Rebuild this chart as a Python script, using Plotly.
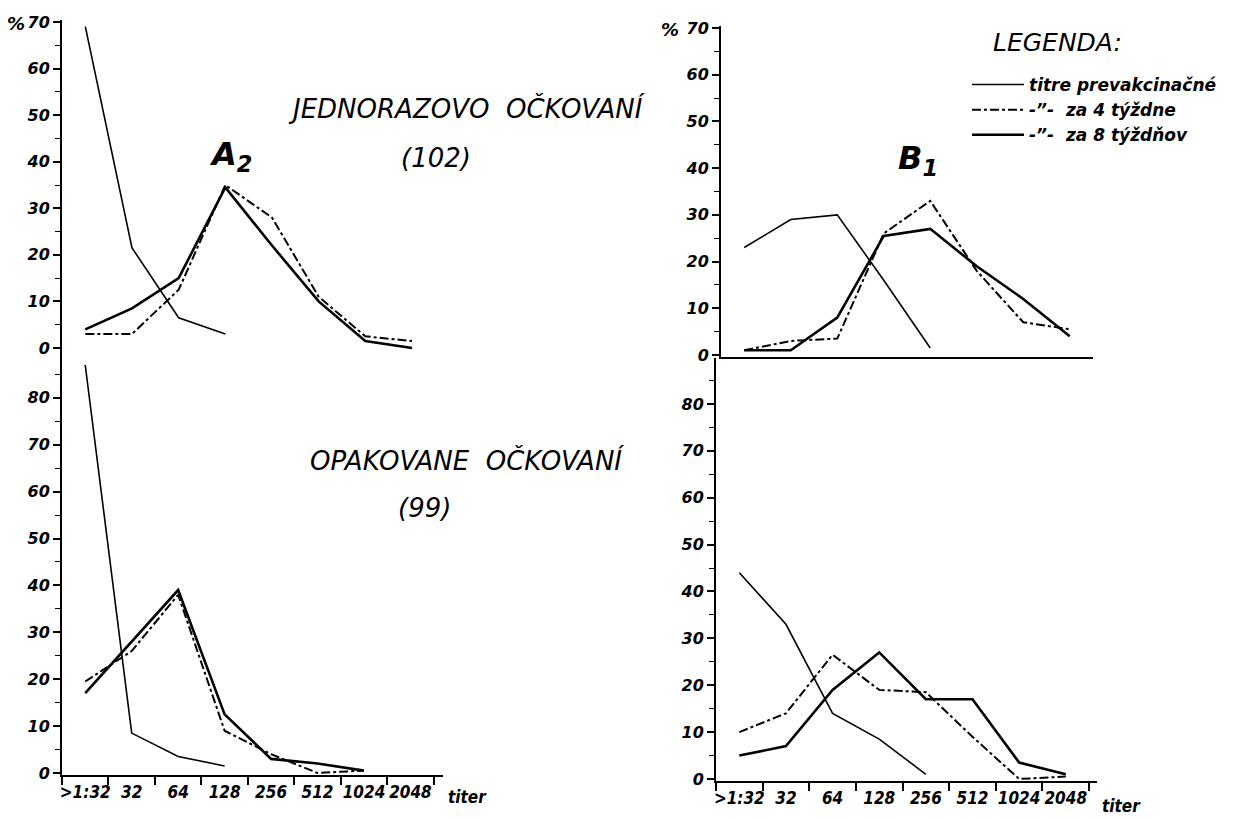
import plotly.graph_objects as go

W, H = 1240, 819
OFF = 8  # page body margin offset

categories = [">1:32", "32", "64", "128", "256", "512", "1024", "2048"]

# A2 - jednorazovo očkovaní (top-left)
a2_single_pre = [69, 21.5, 6.5, 3]
a2_single_w4 = [3, 3, 12.5, 35, 28, 11, 2.5, 1.5]
a2_single_w8 = [4, 8.5, 15, 34.5, 22, 10, 1.5, 0]

# B1 - jednorazovo očkovaní (top-right)
b1_single_pre = [23, 29, 30, 16, 1.5]
b1_single_w4 = [1, 3, 3.5, 26, 33, 18, 7, 5.5]
b1_single_w8 = [1, 1, 8, 25.5, 27, 19, 12, 4]

# A2 - opakovane očkovaní (bottom-left)
a2_rep_pre = [87, 8.5, 3.5, 1.5]
a2_rep_w4 = [19.5, 26, 38, 9, 4, 0, 0.5]
a2_rep_w8 = [17, 28, 39, 12.5, 3, 2, 0.5]

# B1 - opakovane očkovaní (bottom-right)
b1_rep_pre = [44, 33, 14, 8.5, 1]
b1_rep_w4 = [10, 14, 26.5, 19, 18.5, 9, 0, 0.5]
b1_rep_w8 = [5, 7, 19, 27, 17, 17, 3.5, 1]

top_ticks = [0, 10, 20, 30, 40, 50, 60, 70]
top_ticktext = ["0", "10", "20", "30", "40", "50", "60", "70"]
bot_ticks = [0, 10, 20, 30, 40, 50, 60, 70, 80]
bot_ticktext = ["0", "10", "20", "30", "40", "50", "60", "70", "80"]

legend_names = ["titre prevakcinačné", "-\u201d-  za 4 týždne", "-\u201d-  za 8 týždňov"]

FONT = "DejaVu Sans"
NARROW = "Liberation Sans Narrow, DejaVu Sans Condensed, DejaVu Sans"
tickfont = dict(family=FONT, size=16, color="black", weight="bold", style="italic")
xtickfont = dict(family=NARROW, size=17, color="black", weight="bold", style="italic")

styles = [
    dict(color="black", width=1.6, dash="solid"),
    dict(color="black", width=2.0, dash="dashdot"),
    dict(color="black", width=2.6, dash="solid"),
]

fig = go.Figure()

panels = [
    ("x", "y", [a2_single_pre, a2_single_w4, a2_single_w8], True),
    ("x2", "y2", [b1_single_pre, b1_single_w4, b1_single_w8], False),
    ("x3", "y3", [a2_rep_pre, a2_rep_w4, a2_rep_w8], False),
    ("x4", "y4", [b1_rep_pre, b1_rep_w4, b1_rep_w8], False),
]

for xa, ya, series, show in panels:
    for i, vals in enumerate(series):
        fig.add_trace(go.Scatter(
            x=categories[:len(vals)], y=vals, mode="lines",
            line=styles[i], name=legend_names[i], showlegend=show,
            xaxis=xa, yaxis=ya, hoverinfo="skip",
        ))


def fx(px):
    return (px - OFF) / W


def fy(py):
    return 1 - (py - OFF) / H


def px_x(a, b):
    return [fx(a), fx(b)]


def px_y(top, bottom):
    return [fy(bottom), fy(top)]


axis_common = dict(showline=True, linecolor="black", linewidth=2, showgrid=False,
                   zeroline=False, automargin=False)

def xaxis(domain, rng, labels):
    d = dict(axis_common, domain=domain, range=rng, type="category",
             categoryorder="array", categoryarray=categories, fixedrange=True)
    if labels:
        d.update(tickson="boundaries", ticks="outside", ticklen=8, tickwidth=1.5,
                 tickcolor="black", tickfont=xtickfont, showticklabels=True,
                 tickangle=0)
    else:
        d.update(ticks="", showticklabels=False)
    return d


def yaxis(domain, rng, tv, tt, minor_vals):
    return dict(axis_common, domain=domain, range=rng, tickmode="array",
                tickvals=tv, ticktext=tt, ticks="outside", ticklen=7,
                tickwidth=1.5, tickcolor="black", tickfont=tickfont,
                minor=dict(tickmode="array", tickvals=minor_vals, ticks="outside",
                           ticklen=5, tickwidth=1.2, tickcolor="black", showgrid=False),
                fixedrange=True)


fig.update_layout(
    width=W, height=H,
    margin=dict(l=0, r=0, t=0, b=0, autoexpand=False),
    paper_bgcolor="white", plot_bgcolor="white",
    xaxis=dict(xaxis(px_x(62, 440), [-0.5, 7.6], False), anchor="y"),
    yaxis=dict(yaxis(px_y(19.7, 350.3), [-0.5, 70.5], top_ticks, top_ticktext,
                     [5, 15, 25, 35, 45, 55, 65]), anchor="x"),
    xaxis2=dict(xaxis(px_x(721, 1093), [-0.5, 7.5], False), anchor="y2"),
    yaxis2=dict(yaxis(px_y(25.7, 357.3), [-0.5, 70.5], top_ticks, top_ticktext,
                      [5, 15, 25, 35, 45, 55, 65]), anchor="x2"),
    xaxis3=dict(xaxis(px_x(62, 443), [-0.5, 7.7], True), anchor="y3"),
    yaxis3=dict(yaxis(px_y(350, 775.3), [-0.5, 90.2], bot_ticks, bot_ticktext,
                      [5, 15, 25, 35, 45, 55, 65, 75, 85]), anchor="x3"),
    xaxis4=dict(xaxis(px_x(716, 1097), [-0.5, 7.67], True), anchor="y4"),
    yaxis4=dict(yaxis(px_y(358, 781.3), [-0.5, 89.8], bot_ticks, bot_ticktext,
                      [5, 15, 25, 35, 45, 55, 65, 75, 85]), anchor="x4"),
    legend=dict(
        x=fx(967), y=fy(67), xanchor="left", yanchor="top",
        bgcolor="rgba(0,0,0,0)", itemwidth=52, tracegroupgap=0,
        font=dict(family=FONT, size=17, color="black", weight="bold", style="italic"),
    ),
    showlegend=True,
)

label_font = dict(family=FONT, size=26, color="black", style="italic")
big_font = dict(family=FONT, size=32, color="black", style="italic", weight="bold")
pct_font = dict(family=FONT, size=18, color="black", style="italic", weight="bold")
annots = [
    dict(text="JEDNORAZOVO  OČKOVANÍ", x=466, y=108, font=label_font),
    dict(text="(102)", x=436, y=158, font=label_font),
    dict(text="A<sub>2</sub>", x=230, y=156, font=big_font),
    dict(text="B<sub>1</sub>", x=918, y=160, font=big_font),
    dict(text="OPAKOVANE  OČKOVANÍ", x=467, y=460, font=label_font),
    dict(text="(99)", x=424, y=508, font=label_font),
    dict(text="LEGENDA:", x=1057, y=43,
         font=dict(family=FONT, size=25, color="black", style="italic")),
    dict(text="%", x=16, y=23, font=pct_font),
    dict(text="%", x=670, y=29, font=pct_font),
]
for a in annots:
    fig.add_annotation(text=a["text"], x=fx(a["x"]), y=fy(a["y"]),
                       xref="paper", yref="paper", showarrow=False,
                       xanchor="center", yanchor="middle", font=a["font"])

for tx, ty in [(446, 797), (1100, 806)]:
    fig.add_annotation(text="titer", x=fx(tx), y=fy(ty), xref="paper", yref="paper",
                       showarrow=False, xanchor="left", yanchor="middle",
                       font=xtickfont)

fig.write_html("out.html")
